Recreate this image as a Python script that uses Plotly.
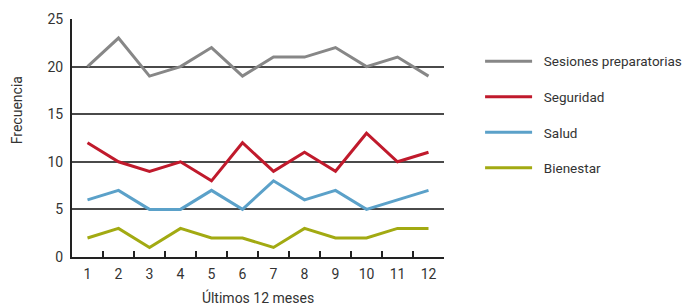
import plotly.graph_objects as go

months = ["1", "2", "3", "4", "5", "6", "7", "8", "9", "10", "11", "12"]
sesiones = [20, 23, 19, 20, 22, 19, 21, 21, 22, 20, 21, 19]
seguridad = [12, 10, 9, 10, 8, 12, 9, 11, 9, 13, 10, 11]
salud = [6, 7, 5, 5, 7, 5, 8, 6, 7, 5, 6, 7]
bienestar = [2, 3, 1, 3, 2, 2, 1, 3, 2, 2, 3, 3]
y_ticks = [0, 5, 10, 15, 20, 25]

series = [
    ("Sesiones preparatorias", sesiones, "#878787"),
    ("Seguridad", seguridad, "#c01a2c"),
    ("Salud", salud, "#5ba1c9"),
    ("Bienestar", bienestar, "#a2aa12"),
]

fam = "Roboto, Open Sans, sans-serif"
txt = "#333333"

fig = go.Figure()
for i, (name, vals, col) in enumerate(series):
    fig.add_trace(go.Scatter(x=months, y=vals, mode="lines", name=name,
                             legendgrouptitle=None,
                             line=dict(color=col, width=3), legendgroup=str(i)))

fig.update_layout(
    width=700, height=307,
    margin=dict(l=72, r=256, t=19, b=50, autoexpand=False),
    paper_bgcolor="white", plot_bgcolor="white",
    font=dict(family=fam, size=13, color=txt),
    showlegend=True,
    legend=dict(x=1.097, xanchor="left", y=0.887, yanchor="top",
                tracegroupgap=15, traceorder="grouped", itemwidth=47,
                font=dict(family=fam, size=13.5, color=txt),
                bgcolor="rgba(0,0,0,0)"),
    xaxis=dict(type="category", range=[-0.5, 11.5], showgrid=False, automargin=False,
               showline=True, linecolor="#222222", linewidth=2,
               ticks="inside", tickson="boundaries", ticklen=6, tickcolor="#222222", tickwidth=1.5,
               ticklabelstandoff=3, tickfont=dict(size=14, color=txt),
               title=dict(text="Últimos 12 meses", font=dict(size=14, color=txt), standoff=12)),
    yaxis=dict(range=[0, 25], tickvals=y_ticks, showgrid=True, gridcolor="#4a4a4a", gridwidth=1.5,
               showline=True, linecolor="#222222", linewidth=2, zeroline=False, automargin=False,
               ticks="", ticklabelstandoff=4, tickfont=dict(size=14, color=txt)),
    annotations=[dict(text="Frecuencia", textangle=-90, xref="paper", yref="paper",
                      x=-0.147, y=0.618, xanchor="center", yanchor="middle", showarrow=False,
                      font=dict(family=fam, size=14, color=txt))],
)

# push legend labels a little away from their line samples, as in the reference
fig.for_each_trace(lambda t: t.update(name="\u00a0\u00a0" + t.name))

fig.write_html("out.html", config={"displayModeBar": False},
               post_script="document.body.style.margin='0';")
